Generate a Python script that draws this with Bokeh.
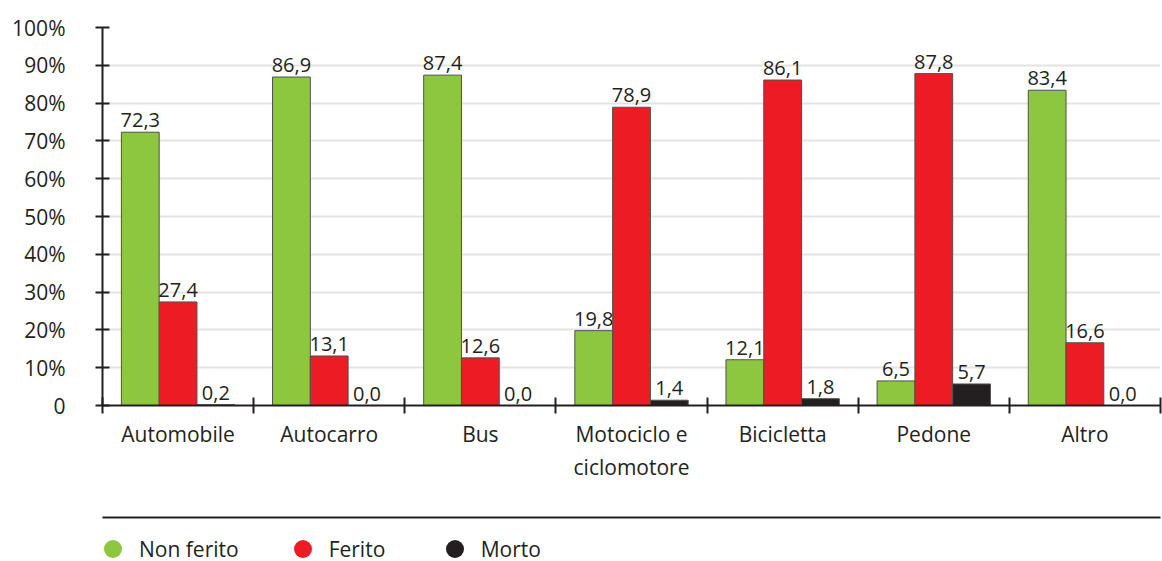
from bokeh.plotting import figure
from bokeh.models import (Range1d, FixedTicker, LinearAxis, Legend, LegendItem,
                          ColumnDataSource)
from bokeh.layouts import column
from bokeh.transform import dodge
from bokeh.core.properties import value
from bokeh.embed import file_html
from bokeh.resources import INLINE

categories = ["Automobile", "Autocarro", "Bus", "Motociclo e\nciclomotore",
              "Bicicletta", "Pedone", "Altro"]
non_ferito = [72.3, 86.9, 87.4, 19.8, 12.1, 6.5, 83.4]
ferito = [27.4, 13.1, 12.6, 78.9, 86.1, 87.8, 16.6]
morto = [0.2, 0.0, 0.0, 1.4, 1.8, 5.7, 0.0]
series_names = ["Non ferito", "Ferito", "Morto"]
y_ticks = [0, 10, 20, 30, 40, 50, 60, 70, 80, 90, 100]

colors = ["#8dc63f", "#ed1c24", "#231f20"]
TXT = "#231f20"
FONT = "Open Sans"

n = len(categories)
centers = [i + 0.5 for i in range(n)]
bounds = list(range(n + 1))

def fmt(v):
    return f"{v:.1f}".replace(".", ",")

src = ColumnDataSource(dict(
    x=centers,
    nf=non_ferito, f=ferito, m=morto,
    nf_l=[fmt(v) for v in non_ferito],
    f_l=[fmt(v) for v in ferito],
    m_l=[fmt(v) for v in morto],
))

H_MAIN = 524
p = figure(width=1162, height=H_MAIN, x_range=Range1d(0, n), y_range=Range1d(0, 100),
           output_backend="svg", toolbar_location=None,
           min_border_left=102, min_border_top=27, min_border_right=2,
           min_border_bottom=H_MAIN - 27 - 378)
p.outline_line_color = None
p.xgrid.visible = False
p.ygrid.grid_line_color = "#e3e3e3"
p.ygrid.grid_line_width = 2

# y axis
ya = p.yaxis[0]
ya.ticker = FixedTicker(ticks=y_ticks)
ya.major_label_overrides = {t: ("0" if t == 0 else f"{t}%") for t in y_ticks}
ya.axis_line_color = TXT
ya.axis_line_width = 2
ya.major_tick_line_color = TXT
ya.major_tick_line_width = 2
ya.major_tick_in = 7
ya.major_tick_out = 7
ya.minor_tick_line_color = None
ya.major_label_standoff = 30
ya.major_label_text_font = FONT
ya.major_label_text_font_size = "21px"
ya.major_label_text_color = TXT

# x axis: labels at centres, separator ticks at bounds
xa = p.xaxis[0]
xa.ticker = FixedTicker(ticks=centers, minor_ticks=bounds)
xa.major_label_overrides = {c: lab for c, lab in zip(centers, categories)}
xa.axis_line_color = TXT
xa.axis_line_width = 2
xa.major_tick_line_color = None
xa.major_tick_in = 0
xa.major_tick_out = 0
xa.minor_tick_line_color = TXT
xa.minor_tick_line_width = 2
xa.minor_tick_in = 8
xa.minor_tick_out = 8
xa.major_label_standoff = 6
xa.major_label_text_font = FONT
xa.major_label_text_font_size = "21px"
xa.major_label_text_color = TXT
xa.axis_label = " "
xa.axis_label_text_font_size = "18px"
xa.axis_label_standoff = 10

# bars
w = 0.25
offs = [-0.25, 0.0, 0.25]
fields = ["nf", "f", "m"]
lfields = ["nf_l", "f_l", "m_l"]
for fld, lf, off, col in zip(fields, lfields, offs, colors):
    p.vbar(x=dodge("x", off, range=p.x_range), top=fld, width=w, source=src,
           fill_color=col, line_color="#505050", line_width=1)
    p.text(x=dodge("x", off, range=p.x_range), y=fld, text=lf, source=src,
           text_align="center", text_baseline="alphabetic", y_offset=-12,
           text_font=value(FONT), text_font_size="20px", text_color=TXT)

# separator line above legend
sep = LinearAxis(ticker=FixedTicker(ticks=[]), axis_line_color=TXT, axis_line_width=2,
                 major_tick_line_color=None, minor_tick_line_color=None,
                 major_tick_out=0, major_tick_in=0, minor_tick_out=0, minor_tick_in=0,
                 major_label_text_font_size="0px", major_label_standoff=0)
p.add_layout(sep, "below")

# legend strip
H_LEG = 561 - H_MAIN
pl = figure(width=1162, height=H_LEG, x_range=Range1d(0, n), y_range=Range1d(0, 100),
            output_backend="svg", toolbar_location=None,
            x_axis_location=None, y_axis_location=None, min_border=0)
pl.outline_line_color = None
pl.xgrid.visible = False
pl.ygrid.visible = False
leg_r = []
for fld, col in zip(fields, colors):
    lr = pl.scatter(x="x", y=fld, source=src, marker="circle", size=0,
                    fill_color=col, line_color=None)
    leg_r.append(lr)
legend = Legend(items=[LegendItem(label=nm, renderers=[r]) for nm, r in zip(series_names, leg_r)],
                orientation="horizontal", location=(-12, -10),
                glyph_width=45, glyph_height=45, label_standoff=4, spacing=41,
                label_width=62,
                padding=0, margin=0, border_line_color=None, background_fill_alpha=0,
                label_text_font=FONT, label_text_font_size="21px", label_text_color=TXT)
pl.add_layout(legend, "center")

open("out.html", "w").write(file_html(column(p, pl, spacing=0), INLINE))
